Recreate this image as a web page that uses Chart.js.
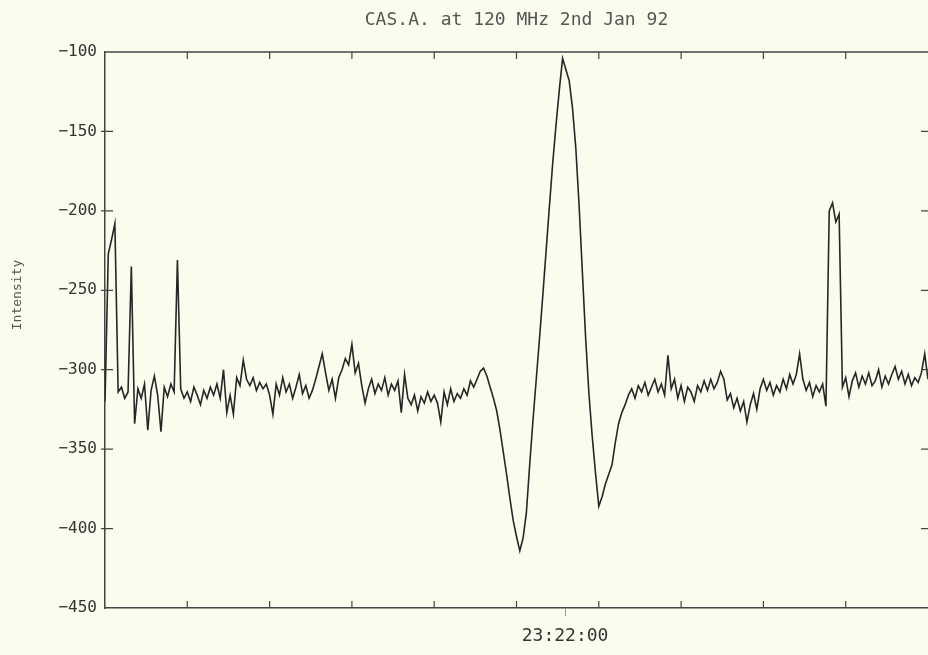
<!DOCTYPE html>
<html>
<head>
<meta charset="utf-8">
<title>CAS.A. at 120 MHz 2nd Jan 92</title>
<script src="https://cdn.jsdelivr.net/npm/chart.js@4/dist/chart.umd.min.js"></script>
<style>
  html, body { margin: 0; padding: 0; background: #fcfcee; }
  #wrap { width: 928px; height: 655px; position: relative; }
</style>
</head>
<body>
<div id="wrap"><canvas id="grafico"></canvas></div>
<script>
// one plotted point every 4 samples
const sampleStep = 4;

// intensity, left to right
const intensity = [
  -320, -227, -218, -208, -314, -311, -318, -314, -235, -334,
  -312, -318, -309, -338, -313, -304, -316, -339, -311, -317,
  -309, -314, -231, -312, -318, -314, -320, -311, -316, -322,
  -313, -318, -311, -316, -309, -318, -300, -327, -316, -328,
  -305, -310, -294, -306, -310, -305, -313, -308, -312, -309,
  -316, -328, -309, -316, -305, -314, -309, -318, -311, -303,
  -315, -310, -318, -313, -306, -298, -290, -302, -313, -306,
  -318, -305, -300, -293, -297, -284, -302, -296, -310, -321,
  -312, -306, -315, -309, -313, -305, -316, -309, -313, -307,
  -327, -303, -318, -322, -316, -326, -317, -321, -314, -320,
  -316, -321, -333, -314, -322, -312, -320, -315, -318, -312,
  -316, -307, -311, -306, -301, -299, -304, -311, -318, -326,
  -338, -352, -366, -381, -395, -405, -414, -406, -390, -360,
  -332, -306, -280, -253, -225, -197, -170, -146, -124, -104,
  -111, -118, -135, -160, -196, -238, -280, -315, -342, -365,
  -386, -380, -372, -366, -360, -346, -334, -327, -322, -316,
  -312, -318, -310, -314, -308, -316, -311, -306, -314, -309,
  -316, -291, -312, -306, -318, -310, -320, -311, -314, -320,
  -310, -314, -307, -313, -306, -312, -308, -301, -306, -319,
  -315, -324, -318, -326, -320, -333, -322, -315, -325, -312,
  -306, -313, -308, -316, -310, -314, -306, -312, -303, -309,
  -303, -290, -306, -313, -308, -317, -310, -314, -309, -323,
  -200, -195, -207, -202, -311, -305, -317, -307, -302, -311,
  -304, -309, -302, -310, -307, -300, -311, -304, -309, -303,
  -298, -306, -301, -309, -303, -310, -305, -308, -302, -290,
  -306
];

const yTickValues = [-450, -400, -350, -300, -250, -200, -150, -100];
const xTickValues = [100, 200, 300, 400, 500, 600, 700, 800, 900];
const timeLabel = '23:22:00';
const timeLabelAt = 559;

const paper = '#fcfcee';
const ink = '#262626';

const marcas = {
  id: 'marcas',
  beforeDraw(chart) {
    const c = chart.ctx;
    c.save();
    c.fillStyle = paper;
    c.fillRect(0, 0, chart.width, chart.height);
    c.restore();
  },
  afterDraw(chart) {
    const c = chart.ctx, a = chart.chartArea;
    const sx = chart.scales.x, sy = chart.scales.y;
    c.save();
    // top frame line
    c.strokeStyle = '#444';
    c.lineWidth = 1.5;
    c.beginPath();
    c.moveTo(a.left, a.top);
    c.lineTo(a.right, a.top);
    c.stroke();
    // ticks pointing into the plot
    c.lineWidth = 1.2;
    c.beginPath();
    xTickValues.forEach(v => {
      const px = sx.getPixelForValue(v);
      c.moveTo(px, a.bottom); c.lineTo(px, a.bottom - 7);
      c.moveTo(px, a.top); c.lineTo(px, a.top + 7);
    });
    yTickValues.slice(1, -1).forEach(v => {
      const py = sy.getPixelForValue(v);
      c.moveTo(a.left - 4, py); c.lineTo(a.left + 8, py);
      c.moveTo(a.right - 7, py); c.lineTo(a.right, py);
    });
    c.stroke();
    // y axis name
    c.translate(18, 295);
    c.rotate(-Math.PI / 2);
    c.font = '13px "DejaVu Sans Mono"';
    c.fillStyle = '#555';
    c.textAlign = 'center';
    c.textBaseline = 'middle';
    c.fillText('Intensity', 0, 0);
    c.restore();
  }
};

const ctx = document.getElementById('grafico').getContext('2d');
new Chart(ctx, {
  type: 'line',
  data: {
    datasets: [{
      data: intensity.map((v, i) => ({ x: i * sampleStep, y: v })),
      borderColor: ink,
      borderWidth: 1.6,
      pointRadius: 0,
      tension: 0,
      fill: false
    }]
  },
  options: {
    responsive: true,
    maintainAspectRatio: false,
    animation: false,
    layout: { padding: 0 },
    plugins: {
      legend: { display: false },
      tooltip: { enabled: false },
      title: {
        display: true,
        text: 'CAS.A. at 120 MHz 2nd Jan 92',
        fullSize: false,
        color: '#555',
        font: { family: 'DejaVu Sans Mono', size: 18, weight: 'normal' },
        padding: { top: 10, bottom: 20.4 }
      }
    },
    scales: {
      x: {
        type: 'linear',
        min: 0,
        max: 1000,
        afterBuildTicks: scale => { scale.ticks = [{ value: timeLabelAt }]; },
        ticks: {
          callback: () => timeLabel,
          color: '#333',
          padding: 10,
          maxRotation: 0,
          font: { family: 'DejaVu Sans Mono', size: 18 }
        },
        grid: { drawOnChartArea: false, tickLength: 8, color: '#999' },
        border: { display: true, color: '#444', width: 1.5 },
        afterFit: scale => { scale.height = 47; }
      },
      y: {
        min: -450,
        max: -100,
        afterBuildTicks: scale => { scale.ticks = yTickValues.map(v => ({ value: v })); },
        ticks: {
          callback: v => '\u2212' + Math.abs(v),
          color: '#333',
          padding: 8,
          font: { family: 'DejaVu Sans Mono', size: 16 }
        },
        grid: { drawOnChartArea: false, drawTicks: false },
        border: { display: true, color: '#444', width: 1.5 },
        afterFit: scale => { scale.width = 105; }
      }
    }
  },
  plugins: [marcas]
});
</script>
</body>
</html>
